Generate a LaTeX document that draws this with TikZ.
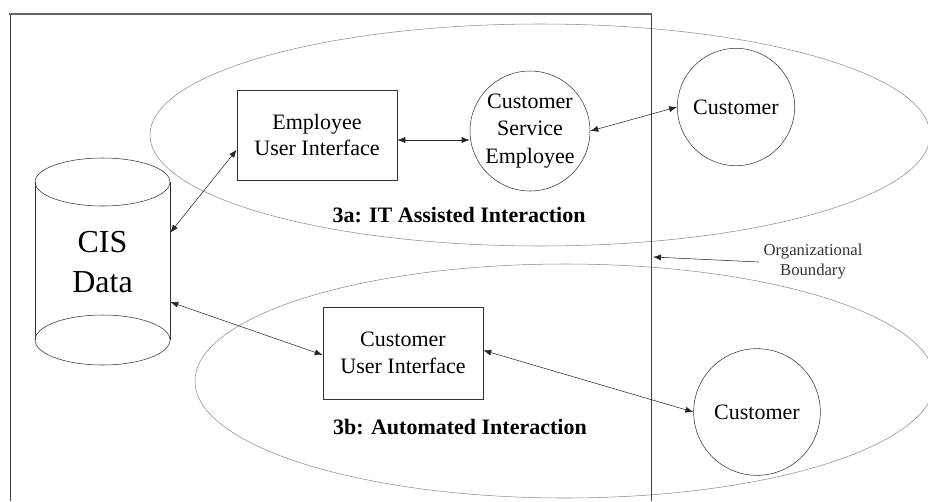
\documentclass[tikz,border=0pt]{standalone}
\usepackage{fontspec}
\setmainfont{Liberation Serif}
\usetikzlibrary{arrows.meta,calc}
\begin{document}
\begin{tikzpicture}[x=0.75pt,y=-0.75pt,
    boxnode/.style={draw=black!80, thin, minimum width=120pt, align=center, font=\fontsize{16.5}{20}\selectfont},
    roundnode/.style={draw=black!80, thin, circle, inner sep=0pt, align=center, font=\fontsize{16.5}{20.5}\selectfont},
    dbl/.style={thin, black!85, {Latex[length=6pt,width=4.5pt]}-{Latex[length=6pt,width=4.5pt]}},
    zone/.style={thin, black!45},
    zonelabel/.style={font=\bfseries\fontsize{16.5}{19}\selectfont}]
    \useasboundingbox (0,0) rectangle (928,501);
                \draw[zone](540,135) ellipse[x radius=292.5pt, y radius=83.25pt];
                \draw[zone](565,381) ellipse[x radius=277.5pt, y radius=87.75pt];
                \draw[thin, black!75](10,501)--(10,14);
                \draw[thin, black!75](651,14)--(651,501);
                \draw[line width=2.2pt, black!60](9,14)--(652,14);
                \draw[thin, black!80](102.5,182) ellipse[x radius=50.6pt, y radius=18pt];
                \draw[thin, black!80](102.5,340) ellipse[x radius=50.6pt, y radius=18.75pt];
                \draw[thin, black!80](35,182)--(35,340);
                \draw[thin, black!80](170,182)--(170,340);
                \node[minimum width=101.25pt, minimum height=90pt, align=center, font=\fontsize{24}{30}\selectfont] (cis) at (102.5,262) {CIS\\Data};
                \node[boxnode, minimum height=67.5pt] (eui) at (317,135) {Employee\\User Interface};
                \node[boxnode, minimum height=69pt] (cui) at (403,353) {Customer\\User Interface};
                \node[roundnode, minimum size=90pt] (cse) at (530,131) {Customer\\Service\\Employee};
                \node[roundnode, minimum size=88pt] (cust1) at (736,107) {Customer};
                \node[roundnode, minimum size=95pt] (cust2) at (757,412) {Customer};
                \node[zonelabel] (lbla) at (459,215) {3a: IT Assisted Interaction};
                \node[zonelabel] (lblb) at (460,427) {3b: Automated Interaction};
                \node[align=center, font=\fontsize{12.5}{15}\selectfont, text=black!80] (org) at (813,262) {Organizational\\Boundary};
                \coordinate (bnd) at (653,257);
                \draw[dbl]([yshift=22pt]cis.east)--([yshift=-11pt]eui.west);
                \draw[dbl]([yshift=-30pt]cis.east)--([yshift=-1.5pt]cui.west);
                \draw[dbl]([yshift=-3.75pt]eui.east)--([yshift=-3.75pt]eui.east-|cse.west);
                \draw[dbl](cse.east)--(cust1.west);
                \draw[dbl]([yshift=2pt]cui.east)--(cust2.west);
                \draw[thin, black!85, -{Latex[length=6pt,width=4.5pt]}](org.west)--(bnd);
            \end{tikzpicture}
\end{document}
